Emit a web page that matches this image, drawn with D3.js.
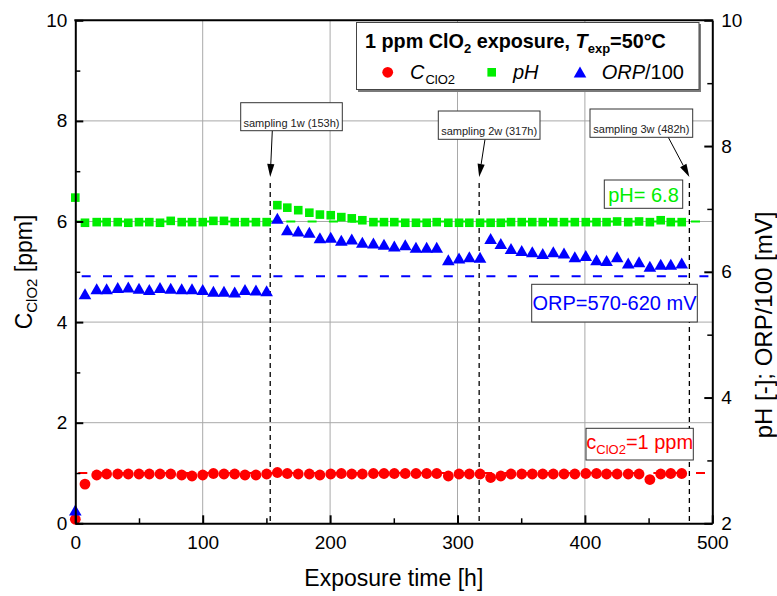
<!DOCTYPE html>
<html>
<head>
<meta charset="utf-8">
<script src="https://cdn.jsdelivr.net/npm/d3@7"></script>
<style>
  body { margin: 0; background: #fff; }
  svg { font-family: "Liberation Sans", Arial, sans-serif; }
</style>
</head>
<body>
<svg id="chart" width="777" height="596"></svg>
<script>
// Exposure times [h], one array per sampling interval
const timesWeek1 = [0, 7.6, 16.8, 24.6, 33.3, 41.6, 50, 58.1, 66.5, 74.9, 83.5, 91.6, 100, 108.4, 116.7, 125.1, 133.2, 141.8, 150.2];
const timesWeek2 = [158.6, 166.4, 175, 183.7, 192, 200.5, 208.8, 217, 225.3, 234, 242.3, 250.4, 259, 267.4, 275.8, 283.7, 292.8, 301.2, 309.3, 317.7];
const timesWeek3 = [326, 334, 342, 350.4, 358.7, 366.9, 375.2, 383.6, 392.1, 400.7, 409.1, 417, 425.3, 434, 442.5, 451, 459.5, 467.4, 476];

// ClO2 concentration [ppm] (left axis)
const clo2Week1 = [0.08, 0.78, 0.96, 0.98, 0.98, 0.98, 0.98, 0.98, 0.98, 0.98, 0.96, 0.94, 0.96, 0.99, 0.98, 0.98, 0.96, 0.96, 0.98];
const clo2Week2 = [1.01, 0.99, 0.98, 0.98, 0.96, 0.98, 0.99, 0.98, 0.98, 0.99, 0.99, 0.99, 0.99, 0.99, 0.99, 0.99, 0.94, 0.98, 0.98, 0.98];
const clo2Week3 = [0.91, 0.94, 0.98, 0.98, 0.98, 0.98, 0.98, 0.98, 0.98, 0.99, 0.99, 0.98, 0.98, 0.98, 0.98, 0.87, 0.98, 0.99, 0.99];

// pH [-] (right axis)
const phWeek1 = [7.18, 6.78, 6.79, 6.79, 6.79, 6.78, 6.79, 6.79, 6.78, 6.81, 6.79, 6.79, 6.79, 6.81, 6.81, 6.79, 6.79, 6.79, 6.79];
const phWeek2 = [7.06, 7.02, 6.98, 6.94, 6.91, 6.90, 6.87, 6.85, 6.82, 6.79, 6.79, 6.79, 6.78, 6.78, 6.78, 6.79, 6.78, 6.78, 6.78, 6.78];
const phWeek3 = [6.78, 6.78, 6.79, 6.79, 6.79, 6.79, 6.79, 6.79, 6.79, 6.79, 6.79, 6.79, 6.80, 6.79, 6.80, 6.79, 6.82, 6.79, 6.79];

// ORP/100 [mV] (right axis)
const orpWeek1 = [2.21, 5.65, 5.73, 5.73, 5.75, 5.76, 5.74, 5.72, 5.75, 5.74, 5.73, 5.73, 5.72, 5.69, 5.69, 5.68, 5.72, 5.71, 5.70];
const orpWeek2 = [6.85, 6.67, 6.65, 6.63, 6.54, 6.55, 6.50, 6.52, 6.47, 6.46, 6.44, 6.41, 6.43, 6.39, 6.39, 6.39, 6.19, 6.22, 6.24, 6.23];
const orpWeek3 = [6.53, 6.45, 6.37, 6.34, 6.32, 6.29, 6.32, 6.30, 6.24, 6.26, 6.19, 6.18, 6.24, 6.14, 6.16, 6.09, 6.12, 6.12, 6.14];

// Sampling events [h]
const samplingTimes = [153, 317, 482];
const samplingLabels = ["sampling 1w (153h)", "sampling 2w (317h)", "sampling 3w (482h)"];

// Reference levels
const clo2Target = 1;      // ppm, left axis
const phReference = 6.8;   // right axis
const orpReference = 5.93; // ORP/100, right axis

// Axis ticks
const xTicks = [0, 100, 200, 300, 400, 500];
const xMinorTicks = [50, 150, 250, 350, 450];
const leftTicks = [0, 2, 4, 6, 8, 10];
const leftMinorTicks = [1, 3, 5, 7, 9];
const rightTicks = [2, 4, 6, 8, 10];
const rightMinorTicks = [3, 5, 7, 9];

const times = [...timesWeek1, ...timesWeek2, ...timesWeek3];
const clo2 = [...clo2Week1, ...clo2Week2, ...clo2Week3];
const ph = [...phWeek1, ...phWeek2, ...phWeek3];
const orp = [...orpWeek1, ...orpWeek2, ...orpWeek3];

const RED = "#ff0000", GREEN = "#00ee00", BLUE = "#0000ff";

const svg = d3.select("#chart");
const plot = { left: 75.3, right: 712.3, top: 20.3, bottom: 523.3 };

const x = d3.scaleLinear().domain([0, 500]).range([plot.left, plot.right]);
const yL = d3.scaleLinear().domain([0, 10]).range([plot.bottom, plot.top]);
const yR = d3.scaleLinear().domain([2, 10]).range([plot.bottom, plot.top]);

// grid
const grid = svg.append("g").attr("stroke", "#a9a9a9").attr("stroke-width", 1);
grid.selectAll(".gx").data(xTicks.filter(d => d > 0 && d < 500)).join("line")
  .attr("x1", d => x(d)).attr("x2", d => x(d))
  .attr("y1", plot.top).attr("y2", plot.bottom);
grid.selectAll(".gy").data(leftTicks.filter(d => d > 0 && d < 10)).join("line")
  .attr("x1", plot.left).attr("x2", plot.right)
  .attr("y1", d => yL(d)).attr("y2", d => yL(d));

// reference levels
function refLine(yPos, color, offset) {
  svg.append("line")
    .attr("x1", x(0)).attr("x2", x(500)).attr("y1", yPos).attr("y2", yPos)
    .attr("stroke", color).attr("stroke-width", 2)
    .attr("stroke-dasharray", "9,12.3").attr("stroke-dashoffset", offset);
}
refLine(yR(orpReference), BLUE, 14.9);
refLine(yL(clo2Target), RED, 18.3);
refLine(yR(phReference), GREEN, 2);

// sampling markers
const samplingBoxes = [
  { x: 240.7, y: 102.7, w: 101.6, h: 28, base: 126.5, ax: 272.3 },
  { x: 438.3, y: 111, w: 101.7, h: 28.3, base: 134.8, ax: 485 },
  { x: 590, y: 109, w: 102.7, h: 28.3, base: 132.6, ax: 668.3 }
];
samplingTimes.forEach((t, i) => {
  const b = samplingBoxes[i];
  const lx = x(t);
  svg.append("line")
    .attr("x1", lx).attr("x2", lx).attr("y1", 183).attr("y2", plot.bottom)
    .attr("stroke", "#000").attr("stroke-width", 1.3).attr("stroke-dasharray", "5,4");
  // arrow from box to the line
  const x0 = b.ax, y0 = b.y + b.h, x1 = lx, y1 = 177;
  const len = Math.hypot(x1 - x0, y1 - y0), ux = (x1 - x0) / len, uy = (y1 - y0) / len;
  const hl = 13, hw = 3.6;
  const bx = x1 - ux * hl, by = y1 - uy * hl;
  svg.append("line").attr("x1", x0).attr("y1", y0).attr("x2", bx).attr("y2", by)
    .attr("stroke", "#000").attr("stroke-width", 1);
  svg.append("path")
    .attr("d", `M${x1},${y1}L${bx - uy * hw},${by + ux * hw}L${bx + uy * hw},${by - ux * hw}Z`)
    .attr("fill", "#000");
});

// data markers
const circleR = 5.4;
svg.append("g").selectAll("circle").data(times).join("circle")
  .attr("cx", d => x(d)).attr("cy", (d, i) => yL(clo2[i])).attr("r", circleR)
  .attr("fill", RED);

const sq = 8.6;
svg.append("g").selectAll("rect").data(times).join("rect")
  .attr("x", d => x(d) - sq / 2).attr("y", (d, i) => yR(ph[i]) - sq / 2)
  .attr("width", sq).attr("height", sq).attr("fill", GREEN);

const triW = 12.6, triH = 11;
const triPath = `M0,${-triH / 2}L${triW / 2},${triH / 2}L${-triW / 2},${triH / 2}Z`;
svg.append("g").selectAll("path").data(times).join("path")
  .attr("d", triPath)
  .attr("transform", (d, i) => `translate(${x(d)},${yR(orp[i])})`)
  .attr("fill", BLUE);

// sampling boxes (drawn above the markers)
samplingTimes.forEach((t, i) => {
  const b = samplingBoxes[i];
  svg.append("rect").attr("x", b.x).attr("y", b.y).attr("width", b.w).attr("height", b.h)
    .attr("fill", "#fff").attr("stroke", "#333").attr("stroke-width", 1);
  svg.append("text").attr("x", b.x + b.w / 2).attr("y", b.base)
    .attr("text-anchor", "middle").attr("font-size", 11).attr("fill", "#222")
    .text(samplingLabels[i]);
});

// value labels
function labelBox(bx, by, bw, bh) {
  svg.append("rect").attr("x", bx).attr("y", by).attr("width", bw).attr("height", bh)
    .attr("fill", "#fff").attr("stroke", "#333").attr("stroke-width", 1);
}
labelBox(604.3, 180, 78.4, 28.3);
svg.append("text").attr("x", 643.5).attr("y", 201.5).attr("text-anchor", "middle")
  .attr("font-size", 20).attr("fill", GREEN).text(`pH= ${phReference}`);

labelBox(531.7, 284.3, 165.6, 37.7);
svg.append("text").attr("x", 614.5).attr("y", 310).attr("text-anchor", "middle")
  .attr("font-size", 20).attr("fill", BLUE).text("ORP=570-620 mV");

labelBox(586, 428.3, 107.3, 31.7);
const cLab = svg.append("text").attr("x", 639.7).attr("y", 449).attr("text-anchor", "middle")
  .attr("font-size", 20).attr("fill", RED);
cLab.append("tspan").text("c");
cLab.append("tspan").attr("font-size", 13).attr("dy", 5).text("ClO2");
cLab.append("tspan").attr("dy", -5).text(`=${clo2Target} ppm`);

// legend
svg.append("rect").attr("x", 358).attr("y", 24).attr("width", 343).attr("height", 68).attr("fill", "#7a7a7a");
svg.append("rect").attr("x", 356.5).attr("y", 22.5).attr("width", 342.5).attr("height", 67)
  .attr("fill", "#fff").attr("stroke", "#444").attr("stroke-width", 1);
const title = svg.append("text").attr("x", 365).attr("y", 48)
  .attr("font-size", 19.8).attr("font-weight", "bold").attr("fill", "#000");
title.append("tspan").text("1 ppm ClO");
title.append("tspan").attr("font-size", 13).attr("dy", 5).text("2");
title.append("tspan").attr("dy", -5).text(" exposure, ");
title.append("tspan").attr("font-style", "italic").text("T");
title.append("tspan").attr("font-size", 13).attr("dy", 5).text("exp");
title.append("tspan").attr("dy", -5).text("=50°C");

svg.append("circle").attr("cx", 387.7).attr("cy", 72.3).attr("r", circleR).attr("fill", RED);
const l1 = svg.append("text").attr("x", 410).attr("y", 79).attr("font-size", 20);
l1.append("tspan").attr("font-style", "italic").text("C");
l1.append("tspan").attr("font-size", 13).attr("dy", 5).attr("dx", 1).text("ClO2");

svg.append("rect").attr("x", 491.7 - sq / 2).attr("y", 72.3 - sq / 2).attr("width", sq).attr("height", sq).attr("fill", GREEN);
svg.append("text").attr("x", 513).attr("y", 79).attr("font-size", 20).attr("font-style", "italic").text("pH");

svg.append("path").attr("d", triPath).attr("transform", "translate(580,72)").attr("fill", BLUE);
const l3 = svg.append("text").attr("x", 601.7).attr("y", 79).attr("font-size", 20);
l3.append("tspan").attr("font-style", "italic").text("ORP");
l3.append("tspan").text("/100");

// axes
function styleAxis(g) {
  g.select(".domain").attr("stroke", "#000").attr("stroke-width", 2);
  g.selectAll(".tick line").attr("stroke", "#000").attr("stroke-width", 2);
  g.selectAll(".tick text").attr("font-size", 19).attr("fill", "#000")
    .attr("font-family", "'Liberation Sans', Arial, sans-serif");
}
function minor(g) {
  g.select(".domain").remove();
  g.selectAll(".tick line").attr("stroke", "#000").attr("stroke-width", 1.5);
}

svg.append("g").attr("transform", `translate(0,${plot.bottom})`)
  .call(d3.axisBottom(x).tickValues(xMinorTicks).tickSize(-5).tickFormat("")).call(minor);
svg.append("g").attr("transform", `translate(${plot.left},0)`)
  .call(d3.axisLeft(yL).tickValues(leftMinorTicks).tickSize(-5).tickFormat("")).call(minor);
svg.append("g").attr("transform", `translate(${plot.right},0)`)
  .call(d3.axisRight(yR).tickValues(rightMinorTicks).tickSize(-5).tickFormat("")).call(minor);

svg.append("g").attr("transform", `translate(0,${plot.bottom})`)
  .call(d3.axisBottom(x).tickValues(xTicks).tickSize(-8).tickSizeOuter(0).tickPadding(12).tickFormat(d3.format("d")))
  .call(styleAxis);
svg.append("g").attr("transform", `translate(${plot.left},0)`)
  .call(d3.axisLeft(yL).tickValues(leftTicks).tickSize(-8).tickSizeOuter(0).tickPadding(8).tickFormat(d3.format("d")))
  .call(styleAxis);
svg.append("g").attr("transform", `translate(${plot.right},0)`)
  .call(d3.axisRight(yR).tickValues(rightTicks).tickSize(-8).tickSizeOuter(0).tickPadding(9).tickFormat(d3.format("d")))
  .call(styleAxis);
svg.append("line").attr("x1", plot.left - 1).attr("x2", plot.right + 1)
  .attr("y1", plot.top).attr("y2", plot.top).attr("stroke", "#000").attr("stroke-width", 2);

// axis titles
svg.append("text").attr("x", (plot.left + plot.right) / 2).attr("y", 586)
  .attr("text-anchor", "middle").attr("font-size", 23).text("Exposure time [h]");

const yt = svg.append("text").attr("transform", "translate(32,272) rotate(-90)")
  .attr("text-anchor", "middle").attr("font-size", 23);
yt.append("tspan").text("C");
yt.append("tspan").attr("font-size", 15).attr("dy", 5).text("ClO2");
yt.append("tspan").attr("dy", -5).text(" [ppm]");

svg.append("text").attr("transform", "translate(772,325) rotate(-90)")
  .attr("text-anchor", "middle").attr("font-size", 24).text("pH [-]; ORP/100 [mV]");
</script>
</body>
</html>
